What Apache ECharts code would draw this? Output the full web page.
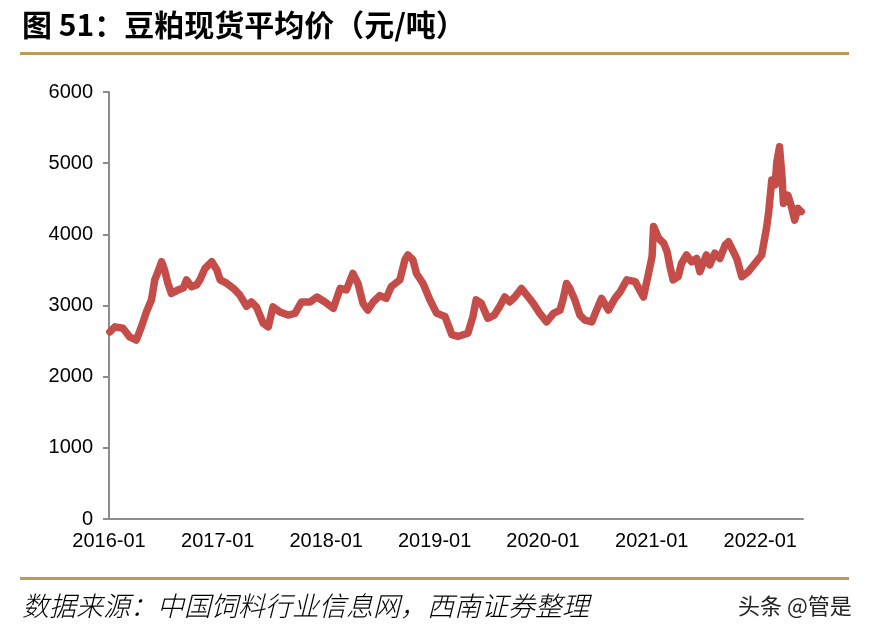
<!DOCTYPE html>
<html>
<head>
<meta charset="utf-8">
<script src="https://cdn.jsdelivr.net/npm/echarts@6/dist/echarts.min.js"></script>
<style>
html,body{margin:0;padding:0;background:#fff;}
#main{width:873px;height:642px;}
</style>
</head>
<body>
<div id="main"></div>
<script>
var titleText = '图 51：豆粕现货平均价（元/吨）';
var sourceText = '数据来源：中国饲料行业信息网，西南证券整理';
var watermark = '头条 @管是';
var seriesName = '豆粕现货平均价';

var dates = [
'2016-01-04','2016-01-21','2016-02-17','2016-03-10','2016-04-02','2016-04-19','2016-05-06','2016-05-23','2016-06-03','2016-06-14',
'2016-06-26','2016-07-06','2016-07-17','2016-07-29','2016-08-21','2016-09-07','2016-09-18','2016-10-05','2016-10-22','2016-11-02',
'2016-11-19','2016-12-12','2016-12-29','2017-01-09','2017-02-01','2017-02-23','2017-03-16','2017-04-08','2017-04-24','2017-05-11',
'2017-06-03','2017-06-20','2017-07-06','2017-07-29','2017-08-26','2017-09-18','2017-10-10','2017-11-08','2017-12-01','2017-12-28',
'2018-01-25','2018-02-17','2018-03-10','2018-04-01','2018-04-18','2018-05-05','2018-05-21','2018-06-08','2018-07-01','2018-07-22',
'2018-08-08','2018-09-06','2018-09-23','2018-10-03','2018-10-20','2018-11-01','2018-11-23','2018-12-16','2019-01-08','2019-02-05',
'2019-02-28','2019-03-20','2019-04-23','2019-05-10','2019-05-21','2019-06-07','2019-06-29','2019-07-21','2019-08-08','2019-08-25',
'2019-09-11','2019-09-28','2019-10-20','2019-11-12','2019-11-29','2019-12-21','2020-01-13','2020-02-05','2020-02-27','2020-03-08',
'2020-03-20','2020-03-31','2020-04-17','2020-05-04','2020-05-21','2020-06-13','2020-06-29','2020-07-16','2020-08-08','2020-08-30',
'2020-09-17','2020-10-09','2020-11-06','2020-12-04','2020-12-21','2021-01-02','2021-01-07','2021-01-24','2021-02-10','2021-02-22',
'2021-03-03','2021-03-14','2021-03-31','2021-04-11','2021-04-28','2021-05-15','2021-06-01','2021-06-12','2021-07-04','2021-07-15',
'2021-08-01','2021-08-18','2021-09-05','2021-09-16','2021-09-27','2021-10-14','2021-10-31','2021-11-22','2021-12-14','2022-01-06',
'2022-01-23','2022-01-29','2022-02-09','2022-02-20','2022-02-26','2022-03-07','2022-03-16','2022-03-20','2022-04-04','2022-04-16',
'2022-04-27','2022-05-08','2022-05-19'
];
var prices = [
2630,2700,2680,2560,2515,2700,2910,3080,3360,3475,
3615,3500,3315,3170,3220,3245,3360,3265,3290,3360,
3520,3615,3500,3360,3310,3240,3150,2990,3050,2980,
2750,2700,2980,2910,2865,2890,3050,3050,3120,3050,
2960,3240,3220,3450,3310,3030,2935,3050,3140,3100,
3265,3360,3640,3710,3640,3450,3310,3080,2890,2845,
2590,2565,2610,2845,3080,3030,2820,2865,2985,3120,
3050,3120,3240,3120,3030,2890,2770,2890,2935,3080,
3310,3240,3080,2865,2795,2770,2935,3100,2935,3100,
3195,3360,3335,3120,3450,3690,4110,3945,3875,3750,
3550,3360,3405,3590,3710,3615,3660,3475,3710,3570,
3735,3660,3850,3895,3805,3660,3405,3475,3590,3710,
4110,4295,4765,4695,5020,5230,4765,4435,4550,4390,
4200,4365,4320
];
var yTicks = [0, 1000, 2000, 3000, 4000, 5000, 6000];
var xStart = '2016-01-01';
var xEnd = '2022-05-25';

var data = dates.map(function (d, i) { return [d, prices[i]]; });

var chart = echarts.init(document.getElementById('main'), null, {renderer: 'canvas'});
var gold = '#BE9A58';
var axisGray = '#8C8C8C';
var option = {
  backgroundColor: '#ffffff',
  animation: false,
  grid: {left: 109, right: 70, top: 92, bottom: 123, containLabel: false},
  xAxis: {
    type: 'time',
    min: xStart,
    max: xEnd,
    splitNumber: 7,
    minInterval: 365 * 24 * 3600 * 1000,
    axisLine: {show: true, lineStyle: {color: axisGray, width: 2}},
    axisTick: {show: false},
    splitLine: {show: false},
    axisLabel: {
      color: '#000',
      fontFamily: 'Liberation Sans, Arial, sans-serif',
      fontSize: 20,
      margin: 12,
      formatter: function (v) { return echarts.time.format(v, '{yyyy}-{MM}', false); }
    }
  },
  yAxis: {
    type: 'value',
    min: yTicks[0],
    max: yTicks[yTicks.length - 1],
    interval: 1000,
    axisLine: {show: true, lineStyle: {color: axisGray, width: 2}},
    axisTick: {show: true, inside: false, length: 6, lineStyle: {color: axisGray, width: 2}},
    splitLine: {show: false},
    axisLabel: {
      color: '#000',
      fontFamily: 'Liberation Sans, Arial, sans-serif',
      fontSize: 20,
      margin: 16,
      formatter: function (v) { return String(v); }
    }
  },
  series: [{
    name: seriesName,
    type: 'line',
    data: data,
    showSymbol: false,
    symbol: 'none',
    smooth: false,
    lineStyle: {color: '#C44D49', width: 7.5, cap: 'round', join: 'round'}
  }],
  graphic: [
    {type: 'text', left: 22, top: 10, style: {text: titleText, fill: '#000', font: 'bold 30px "Noto Sans CJK SC", sans-serif'}},
    {type: 'rect', shape: {x: 20, y: 52, width: 829, height: 3}, style: {fill: gold}},
    {type: 'rect', shape: {x: 20, y: 577, width: 829, height: 3}, style: {fill: gold}},
    {type: 'text', left: 22, top: 592, style: {text: sourceText, fill: '#000', font: 'italic 300 27px "Noto Sans CJK SC", sans-serif'}},
    {type: 'text', left: 738, top: 595, style: {text: watermark, fill: '#222', font: '22px "Noto Sans CJK SC", sans-serif'}}
  ]
};
chart.setOption(option);
</script>
</body>
</html>
